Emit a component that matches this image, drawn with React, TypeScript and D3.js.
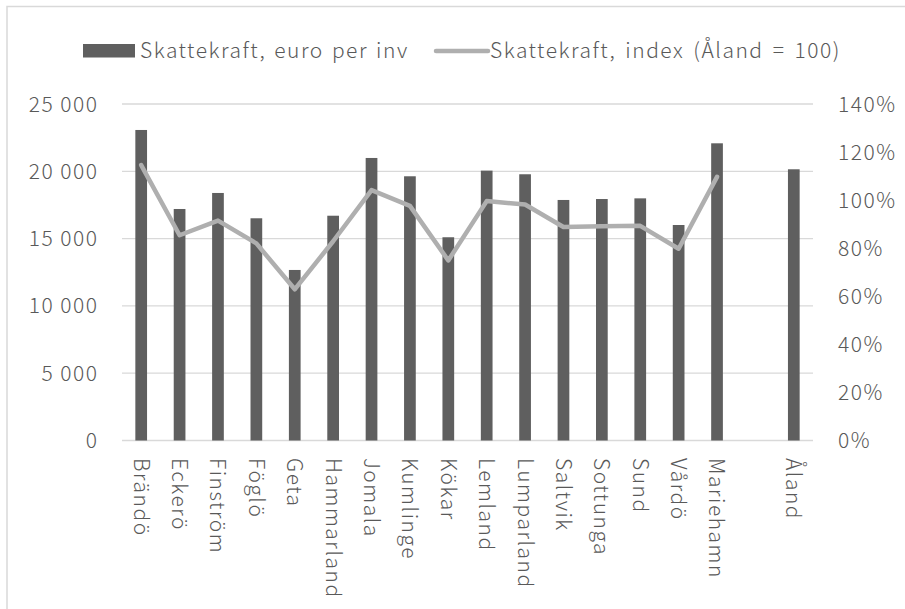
import React from "react";
import * as d3 from "d3";

const categories = ["Brändö", "Eckerö", "Finström", "Föglö", "Geta", "Hammarland", "Jomala", "Kumlinge", "Kökar", "Lemland", "Lumparland", "Saltvik", "Sottunga", "Sund", "Vårdö", "Mariehamn", "", "Åland"];
const euroPerInv: (number | null)[] = [23070, 17200, 18390, 16510, 12670, 16700, 20990, 19630, 15100, 20050, 19780, 17870, 17940, 17990, 16010, 22080, null, 20150];
const indexPct: (number | null)[] = [114.6, 85.4, 91.5, 82.0, 62.9, 82.9, 104.2, 97.6, 74.9, 99.6, 98.2, 88.8, 89.1, 89.3, 79.8, 109.7, null, null];
const leftTicks = [0, 5000, 10000, 15000, 20000, 25000];
const rightTicks = [0, 20, 40, 60, 80, 100, 120, 140];
const legendLabels = ["Skattekraft, euro per inv", "Skattekraft, index (Åland = 100)"];

const W = 905;
const H = 609;
const FONT = "'Noto Sans CJK JP', 'Noto Sans', sans-serif";
const TXT = "#595959";
const FS = 21;
const LS = 1.5;

export default function App() {
  const plotLeft = 122;
  const plotRight = 813;
  const plotTop = 104;
  const plotBottom = 440.5;

  const keys = categories.map((c, i) => `${i}`);
  const x = d3.scaleBand<string>().domain(keys).range([plotLeft, plotRight]).paddingInner(0.695).paddingOuter(0.3475);
  const yL = d3.scaleLinear().domain([0, 25000]).range([plotBottom, plotTop]);
  const yR = d3.scaleLinear().domain([0, 140]).range([plotBottom, plotTop]);

  const fmt = (v: number) => d3.format(",")(v).replace(/,/g, " ");

  const lineGen = d3
    .line<number | null>()
    .defined((d) => d !== null)
    .x((_, i) => (x(keys[i]) as number) + x.bandwidth() / 2)
    .y((d) => yR(d as number));

  const textProps = { fontSize: FS, fill: TXT, fontWeight: 300, letterSpacing: LS };

  return (
    <svg width={W} height={H} style={{ position: "absolute", left: 0, top: 0, background: "#fff" }} fontFamily={FONT}>
      <rect x={0} y={0} width={W} height={H} fill="#fff" />
      <path d={`M7,${H} L7,6.5 L${W},6.5`} fill="none" stroke="#d9d9d9" strokeWidth={1.5} />

      {leftTicks.map((t) => (
        <line key={t} x1={plotLeft} x2={plotRight} y1={yL(t)} y2={yL(t)} stroke="#d9d9d9" strokeWidth={1.3} />
      ))}

      {leftTicks.map((t) => (
        <text key={"l" + t} x={98.5} y={yL(t)} dy="0.36em" textAnchor="end" {...textProps}>
          {fmt(t)}
        </text>
      ))}
      {rightTicks.map((t) => (
        <text key={"r" + t} x={838} y={yR(t)} dy="0.36em" textAnchor="start" {...textProps}>
          {`${t}%`}
        </text>
      ))}

      {euroPerInv.map((v, i) =>
        v === null ? null : (
          <rect key={"b" + i} x={x(keys[i])} y={yL(v)} width={x.bandwidth()} height={yL(0) - yL(v)} fill="#5f5f5f" />
        )
      )}

      <path d={lineGen(indexPct) || ""} fill="none" stroke="#afafaf" strokeWidth={4.5} strokeLinejoin="round" strokeLinecap="round" />

      {categories.map((c, i) => (
        <text
          key={"c" + i}
          transform={`translate(${(x(keys[i]) as number) + x.bandwidth() / 2},458) rotate(90)`}
          dy="0.36em"
          textAnchor="start"
          {...textProps}
        >
          {c}
        </text>
      ))}

      <rect x={83} y={44} width={52} height={13.5} fill="#5f5f5f" />
      <text x={140} y={57.5} {...textProps} wordSpacing={2}>
        {legendLabels[0]}
      </text>
      <line x1={436} x2={488} y1={51} y2={51} stroke="#afafaf" strokeWidth={4.5} strokeLinecap="round" />
      <text x={490} y={57.5} {...textProps} wordSpacing={3}>
        {legendLabels[1]}
      </text>
    </svg>
  );
}
